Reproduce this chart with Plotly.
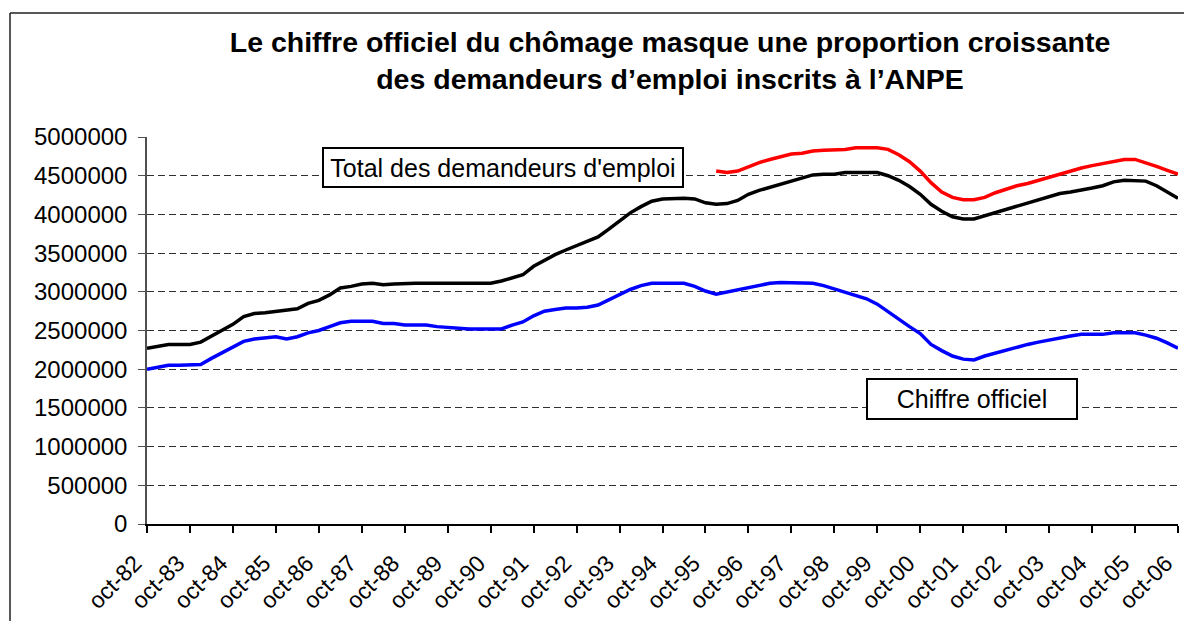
import plotly.graph_objects as go

# months since Oct 1982, quarterly readings
months = list(range(0, 289, 3))

total = [2.27, 2.30, 2.32, 2.32, 2.32, 2.35, 2.43, 2.51, 2.58, 2.68, 2.72, 2.73,
         2.75, 2.76, 2.78, 2.85, 2.89, 2.96, 3.05, 3.07, 3.10, 3.11, 3.09, 3.10,
         3.11, 3.11, 3.11, 3.11, 3.11, 3.11, 3.11, 3.11, 3.11, 3.14, 3.18, 3.22,
         3.33, 3.41, 3.48, 3.54, 3.60, 3.65, 3.71, 3.81, 3.92, 4.02, 4.10, 4.17,
         4.20, 4.21, 4.21, 4.20, 4.15, 4.13, 4.14, 4.18, 4.26, 4.31, 4.35, 4.40,
         4.44, 4.48, 4.51, 4.52, 4.52, 4.54, 4.54, 4.54, 4.54, 4.50, 4.44, 4.36,
         4.26, 4.13, 4.04, 3.97, 3.94, 3.94, 3.98, 4.02, 4.06, 4.10, 4.14, 4.18,
         4.23, 4.27, 4.29, 4.31, 4.34, 4.37, 4.42, 4.44, 4.44, 4.43, 4.37, 4.29,
         4.21]

official = [2.00, 2.02, 2.05, 2.05, 2.05, 2.06, 2.14, 2.21, 2.29, 2.36, 2.39, 2.41,
            2.42, 2.39, 2.42, 2.47, 2.50, 2.55, 2.60, 2.62, 2.62, 2.62, 2.59, 2.59,
            2.57, 2.57, 2.57, 2.55, 2.54, 2.52, 2.52, 2.52, 2.52, 2.52, 2.57, 2.61,
            2.69, 2.75, 2.77, 2.79, 2.79, 2.80, 2.83, 2.90, 2.97, 3.03, 3.08, 3.11,
            3.11, 3.11, 3.11, 3.07, 3.01, 2.97, 3.00, 3.03, 3.06, 3.09, 3.11, 3.12,
            3.12, 3.12, 3.11, 3.08, 3.04, 2.99, 2.95, 2.91, 2.84, 2.74, 2.64, 2.55,
            2.46, 2.32, 2.24, 2.17, 2.13, 2.12, 2.17, 2.21, 2.25, 2.28, 2.32, 2.35,
            2.38, 2.40, 2.43, 2.45, 2.45, 2.45, 2.47, 2.47, 2.47, 2.44, 2.40, 2.34,
            2.27]

red_months = list(range(159, 289, 3))
red = [4.56, 4.54, 4.56, 4.62, 4.67, 4.71, 4.75, 4.78, 4.79, 4.82, 4.83, 4.83,
       4.84, 4.86, 4.86, 4.86, 4.84, 4.77, 4.68, 4.56, 4.41, 4.29, 4.22, 4.19,
       4.19, 4.22, 4.28, 4.33, 4.37, 4.40, 4.44, 4.48, 4.53, 4.57, 4.60, 4.63,
       4.66, 4.69, 4.71, 4.71, 4.67, 4.62, 4.57, 4.52]

tick_labels = ["oct-%02d" % (y % 100) for y in range(1982, 2007)]
tick_vals = list(range(0, 289, 12))

FONT = "Liberation Sans, Arial, sans-serif"

# body margin removed in the page; plot area in page px: x 147..1178, y 137..524
W, H = 1184, 621
ML, MT, MR, MB = 147, 137, 6, 97
PW = W - ML - MR          # 1031
PH = H - MT - MB          # 387


def px(page_x):
    return (page_x - ML) / PW


def py(page_y):
    return (MT + PH - page_y) / PH


fig = go.Figure()
fig.add_trace(go.Scatter(x=months, y=[v * 1e6 for v in official], mode="lines",
                         line=dict(color="#0000FF", width=3.5), name="Chiffre officiel"))
fig.add_trace(go.Scatter(x=months, y=[v * 1e6 for v in total], mode="lines",
                         line=dict(color="#000000", width=3.5), name="Total"))
fig.add_trace(go.Scatter(x=red_months, y=[v * 1e6 for v in red], mode="lines",
                         line=dict(color="#FF0000", width=3.5), name="Rouge"))

fig.update_layout(
    width=W, height=H,
    margin=dict(l=ML, r=MR, t=MT, b=MB),
    paper_bgcolor="white", plot_bgcolor="white",
    showlegend=False,
    font=dict(family=FONT, color="black"),
    title=dict(
        text="<b>Le chiffre officiel du chômage masque une proportion croissante<br>des demandeurs d’emploi inscrits à l’ANPE</b>",
        x=px(670), xref="paper", xanchor="center",
        y=0.916, yref="container", yanchor="top",
        font=dict(size=28.5, family=FONT, color="black"),
    ),
    xaxis=dict(
        range=[0, 288], tickmode="array", tickvals=tick_vals, ticktext=tick_labels,
        tickangle=-45, tickfont=dict(size=23, family=FONT, color="black"),
        ticklabelstandoff=8, ticklabelshift=-12, ticklabeloverflow="allow",
        showgrid=False, zeroline=False,
        showline=True, linecolor="#000000", linewidth=1.5,
        ticks="outside", ticklen=7, tickcolor="#000000", tickwidth=1.5,
        fixedrange=True,
    ),
    yaxis=dict(
        range=[0, 5000000], dtick=500000, tickformat="d",
        tickfont=dict(size=24, family=FONT, color="black"),
        showgrid=True, gridcolor="#303030", gridwidth=1, griddash="7px,4px",
        zeroline=False,
        showline=True, linecolor="#505050", linewidth=1.5,
        ticks="outside", ticklen=7, tickcolor="#505050", tickwidth=1,
        ticklabelstandoff=6,
        fixedrange=True,
    ),
    annotations=[
        dict(text="Total des demandeurs d'emploi", xref="paper", yref="paper",
             x=px(503), y=py(167.5), xanchor="center", yanchor="middle",
             width=350, height=29,
             showarrow=False, font=dict(size=25, family=FONT, color="black"),
             bordercolor="black", borderwidth=2, borderpad=4, bgcolor="white"),
        dict(text="Chiffre officiel", xref="paper", yref="paper",
             x=px(972), y=py(399), xanchor="center", yanchor="middle",
             width=200, height=30,
             showarrow=False, font=dict(size=25, family=FONT, color="black"),
             bordercolor="black", borderwidth=2, borderpad=4, bgcolor="white"),
    ],
    shapes=[
        # chart-area frame: top edge and left edge (right/bottom lie outside the picture)
        dict(type="line", xref="paper", yref="paper",
             x0=px(10), x1=px(1184), y0=py(13), y1=py(13),
             line=dict(color="#202020", width=1.5), layer="below"),
        dict(type="line", xref="paper", yref="paper",
             x0=px(10), x1=px(10), y0=py(13), y1=py(621),
             line=dict(color="#202020", width=1.5), layer="below"),
    ],
)

post_js = """
document.documentElement.style.overflow='hidden';
document.body.style.margin='0px';
document.body.style.overflow='hidden';
window.scrollTo(0,0);
"""

fig.write_html(
    "out.html",
    config={"displayModeBar": False},
    post_script=post_js,
)
